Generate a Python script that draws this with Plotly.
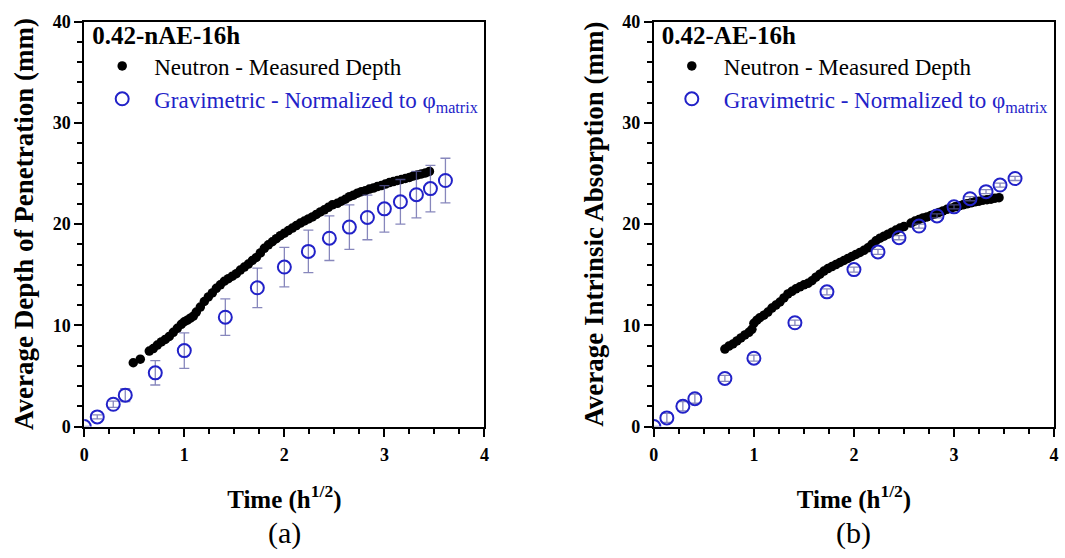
import plotly.graph_objects as go

W, H = 1065, 558

# ---------------- data ----------------
# Gravimetric time points (h^1/2)
grav_t = [0, 0.13, 0.29, 0.41, 0.71, 1.0, 1.41, 1.73, 2.0, 2.24, 2.45, 2.65,
          2.83, 3.0, 3.16, 3.32, 3.46, 3.61]

# (a) 0.42-nAE-16h
grav_a = [0, 0.95, 2.2, 3.1, 5.3, 7.5, 10.8, 13.7, 15.75, 17.3, 18.6, 19.7,
          20.65, 21.5, 22.2, 22.9, 23.5, 24.3]
grav_a_err = [0, 0.2, 0.3, 0.65, 1.2, 1.75, 1.8, 1.95, 1.95, 2.1, 2.2, 2.2,
              2.2, 2.3, 2.2, 2.3, 2.3, 2.2]

neu_a_t = [0.49, 0.56,
           0.65, 0.69, 0.73, 0.77, 0.81, 0.85, 0.89, 0.93, 0.97, 1.00, 1.03,
           1.06, 1.09, 1.12, 1.16, 1.20, 1.24, 1.28, 1.32, 1.36, 1.40, 1.44,
           1.48, 1.52, 1.56, 1.60, 1.64, 1.68, 1.72, 1.76, 1.80, 1.84, 1.88,
           1.92, 1.96, 2.00, 2.04, 2.08, 2.12, 2.16, 2.20, 2.24, 2.28, 2.32,
           2.36, 2.40, 2.44, 2.48, 2.53, 2.57, 2.61, 2.65, 2.69, 2.73, 2.77,
           2.81, 2.85, 2.89, 2.93, 2.97, 3.01, 3.05, 3.09, 3.13, 3.17, 3.21,
           3.25, 3.29, 3.33, 3.37, 3.41, 3.45]
neu_a = [6.3, 6.65,
         7.45, 7.7, 8.05, 8.35, 8.6, 8.9, 9.3, 9.7, 10.1, 10.35, 10.5,
         10.7, 10.9, 11.3, 11.8, 12.35, 12.8, 13.2, 13.65, 14.0, 14.35, 14.6,
         14.85, 15.1, 15.45, 15.75, 16.05, 16.4, 16.7, 17.15, 17.6, 17.95, 18.25,
         18.55, 18.85, 19.1, 19.35, 19.6, 19.85, 20.1, 20.3, 20.5, 20.7, 20.95,
         21.2, 21.4, 21.65, 21.9, 22.05, 22.25, 22.45, 22.7, 22.85, 23.05, 23.2,
         23.3, 23.45, 23.55, 23.7, 23.8, 23.95, 24.1, 24.2, 24.3, 24.4, 24.5,
         24.6, 24.75, 24.85, 24.95, 25.05, 25.2]

# (b) 0.42-AE-16h
grav_b = [0, 0.85, 2.0, 2.75, 4.75, 6.75, 10.25, 13.3, 15.5, 17.25, 18.65, 19.8,
          20.8, 21.7, 22.5, 23.2, 23.85, 24.5]
grav_b_err = [0, 0.45, 0.45, 0.45, 0.3, 0.3, 0.25, 0.3, 0.25, 0.25, 0.2, 0.2,
              0.2, 0.2, 0.2, 0.2, 0.2, 0.2]

neu_b_t = [0.71, 0.75, 0.79, 0.83, 0.87, 0.91, 0.95, 0.98, 1.00, 1.03, 1.06,
           1.10, 1.14, 1.18, 1.22, 1.26, 1.30, 1.34, 1.38, 1.42, 1.46, 1.50,
           1.54, 1.58, 1.62, 1.66, 1.70, 1.74, 1.78, 1.82, 1.86, 1.90, 1.94,
           1.98, 2.02, 2.06, 2.10, 2.14, 2.18, 2.22, 2.26, 2.30, 2.34, 2.38,
           2.42, 2.46, 2.50, 2.57, 2.61, 2.65, 2.69, 2.73, 2.77, 2.81, 2.85,
           2.89, 2.93, 2.97, 3.01, 3.05, 3.09, 3.13, 3.17, 3.21, 3.25, 3.29,
           3.33, 3.37, 3.41, 3.45]
neu_b = [7.65, 7.95, 8.15, 8.45, 8.75, 9.05, 9.3, 9.6, 10.2, 10.5, 10.75,
         11.0, 11.3, 11.7, 12.0, 12.3, 12.7, 13.1, 13.35, 13.6, 13.8, 14.0,
         14.15, 14.4, 14.75, 15.05, 15.35, 15.6, 15.8, 16.0, 16.2, 16.4, 16.6,
         16.8, 17.0, 17.2, 17.4, 17.65, 18.0, 18.35, 18.6, 18.8, 19.0, 19.2,
         19.4, 19.6, 19.75, 20.1, 20.3, 20.45, 20.6, 20.7, 20.85, 21.0, 21.15,
         21.3, 21.45, 21.55, 21.7, 21.8, 21.9, 22.0, 22.1, 22.2, 22.25, 22.35,
         22.4, 22.45, 22.55, 22.6]

panel_titles = ["0.42-nAE-16h", "0.42-AE-16h"]
y_titles = ["Average Depth of Penetration (mm)", "Average Intrinsic Absorption (mm)"]
x_title = "Time (h<sup>1/2</sup>)"
panel_tags = ["(a)", "(b)"]
neu_name = "Neutron - Measured Depth"
grav_name = "Gravimetric - Normalized to \u03c6<sub>matrix</sub>"

# ---------------- style ----------------
SERIF = "Liberation Serif"
BLUE = "#2222c8"
ERR = "rgba(95,95,165,0.75)"

fig = go.Figure()

panels = [
    dict(xa="x", ya="y", leg="legend", nt=neu_a_t, ny=neu_a, gy=grav_a, ge=grav_a_err),
    dict(xa="x2", ya="y2", leg="legend2", nt=neu_b_t, ny=neu_b, gy=grav_b, ge=grav_b_err),
]

for p in panels:
    fig.add_trace(go.Scatter(
        x=p["nt"], y=p["ny"], mode="markers", xaxis=p["xa"], yaxis=p["ya"],
        marker=dict(color="black", size=9.5, line=dict(width=0)),
        name=neu_name, legend=p["leg"], showlegend=True))
    fig.add_trace(go.Scatter(
        x=grav_t, y=p["gy"], mode="markers", xaxis=p["xa"], yaxis=p["ya"],
        error_y=dict(type="data", array=p["ge"], color=ERR, thickness=1.3, width=5),
        marker=dict(symbol="circle-open", color=BLUE, size=13, line=dict(width=2, color=BLUE)),
        name='<span style="color:%s">%s</span>' % (BLUE, grav_name),
        legend=p["leg"], showlegend=True))

ydom = [1 - 432 / H, 1 - 12 / H]
xdoms = [[80 / W, 484 / W], [655 / W, 1059 / W]]

def xaxis(dom, anchor):
    return dict(
        domain=dom, anchor=anchor, range=[0, 4], dtick=1, tick0=0,
        showgrid=False, zeroline=False, showline=True, linecolor="black",
        linewidth=2, mirror=True, ticks="outside", ticklen=8, tickwidth=2,
        tickcolor="black", ticklabelstandoff=3,
        minor=dict(dtick=0.25, ticks="outside", ticklen=5, tickwidth=1.5,
                   tickcolor="black", showgrid=False),
        tickfont=dict(family=SERIF, size=18, color="black", weight="bold"),
        title=dict(text="<b>" + x_title + "</b>",
                   font=dict(family=SERIF, size=25, color="black"), standoff=26),
    )

def yaxis(dom, anchor, title):
    return dict(
        domain=dom, anchor=anchor, range=[0, 40], dtick=10, tick0=0,
        showgrid=False, zeroline=False, showline=True, linecolor="black",
        linewidth=2, mirror=True, ticks="outside", ticklen=8, tickwidth=2,
        tickcolor="black",
        minor=dict(dtick=2, ticks="outside", ticklen=5, tickwidth=1.5,
                   tickcolor="black", showgrid=False),
        tickfont=dict(family=SERIF, size=18, color="black", weight="bold"),
        title=dict(text="<b>" + title + "</b>",
                   font=dict(family=SERIF, size=27, color="black"), standoff=11),
    )

def legend(x0):
    return dict(
        x=x0 / W, y=1 - 2 / H, xanchor="left", yanchor="top",
        bgcolor="rgba(0,0,0,0)", borderwidth=0, itemwidth=54,
        font=dict(family=SERIF, size=23, color="black"),
        tracegroupgap=0, itemclick=False,
    )

leg1 = legend(86)
leg1["title"] = dict(text="<b>" + panel_titles[0] + "</b>",
                     font=dict(family=SERIF, size=25, color="black"))
leg2 = legend(661)
leg2["title"] = dict(text="<b>" + panel_titles[1] + "</b>",
                     font=dict(family=SERIF, size=25, color="black"))

annotations = []
for i, xr in enumerate(["x", "x2"]):
    annotations.append(dict(
        text=panel_tags[i], xref=xr, x=2, yref="paper", y=1 - 542 / H,
        xanchor="center", yanchor="middle", showarrow=False,
        font=dict(family=SERIF, size=30, color="black")))

fig.update_layout(
    width=W, height=H, margin=dict(l=0, r=0, t=0, b=0),
    paper_bgcolor="white", plot_bgcolor="white",
    xaxis=xaxis(xdoms[0], "y"), yaxis=yaxis(ydom, "x", y_titles[0]),
    xaxis2=xaxis(xdoms[1], "y2"), yaxis2=yaxis(ydom, "x2", y_titles[1]),
    legend=leg1, legend2=leg2,
    annotations=annotations,
    showlegend=True,
)

fig.write_html("out.html")
